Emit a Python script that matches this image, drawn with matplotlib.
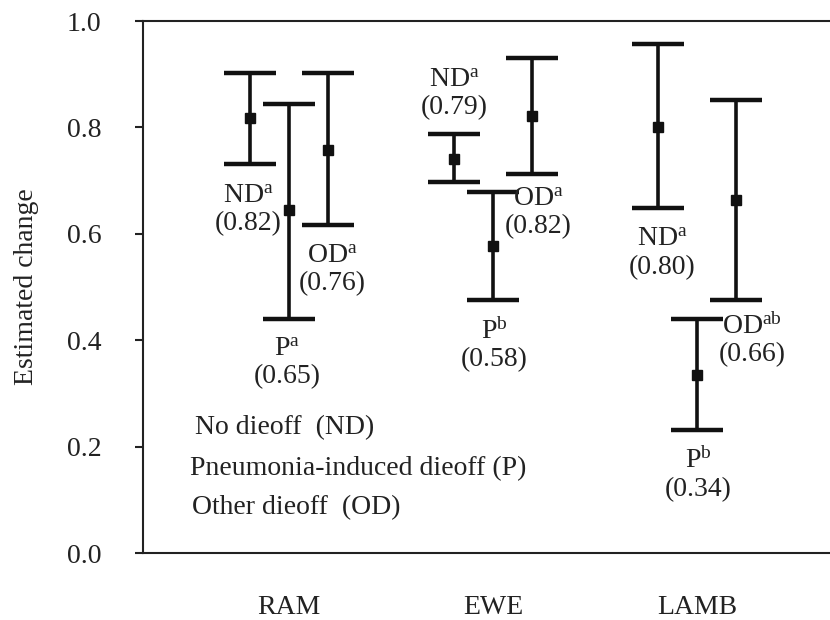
import numpy as np
import matplotlib
matplotlib.use('Agg')
import matplotlib.pyplot as plt

plt.rcParams['font.family'] = ['Liberation Serif', 'DejaVu Serif']
plt.rcParams['mathtext.fontset'] = 'custom'
plt.rcParams['mathtext.rm'] = 'Liberation Serif'
plt.rcParams['mathtext.it'] = 'Liberation Serif'

# data
groups = ['RAM', 'EWE', 'LAMB']
status = ['ND', 'P', 'OD']
# rows: status (ND, P, OD), columns: group (RAM, EWE, LAMB)
means = np.array([[0.817, 0.741, 0.801],
                  [0.644, 0.578, 0.335],
                  [0.757, 0.821, 0.663]])
lower = np.array([[0.731, 0.697, 0.649],
                  [0.440, 0.476, 0.231],
                  [0.616, 0.713, 0.476]])
upper = np.array([[0.902, 0.787, 0.956],
                  [0.845, 0.679, 0.440],
                  [0.902, 0.931, 0.852]])
letters = [['a', 'a', 'a'],
           ['a', 'b', 'b'],
           ['a', 'a', 'ab']]
shown = [['0.82', '0.79', '0.80'],
         ['0.65', '0.58', '0.34'],
         ['0.76', '0.82', '0.66']]
legend_lines = ['No dieoff  (ND)', 'Pneumonia-induced dieoff (P)',
                'Other dieoff  (OD)']

# label placement (data coords) for each status/group
label_pos = {(0, 0): (-0.20, 0.645), (1, 0): (-0.01, 0.357), (2, 0): (0.21, 0.532),
             (0, 1): (0.81, 0.863), (1, 1): (1.005, 0.391), (2, 1): (1.22, 0.639),
             (0, 2): (1.828, 0.563), (1, 2): (2.005, 0.147), (2, 2): (2.27, 0.400)}

fig = plt.figure(figsize=(8.3, 6.2), dpi=100)
ax = fig.add_axes([0.1723, 0.108, 0.8277, 0.858])

x = np.arange(len(groups))
offsets = [-0.19, 0.0, 0.19]
fs = 20

for i in range(len(status)):
    xp = x + offsets[i]
    err = np.vstack([means[i] - lower[i], upper[i] - means[i]])
    ax.errorbar(xp, means[i], yerr=err, fmt='s', color='#111111',
                ms=7, elinewidth=2.6, capsize=19, capthick=3.2)
    for j in range(len(groups)):
        lx, ly = label_pos[(i, j)]
        ax.text(lx, ly, status[i] + r'$^{\mathrm{' + letters[i][j] + '}}$' +
                '\n(' + shown[i][j] + ')', ha='center', va='center',
                fontsize=fs, linespacing=1.12, color='#222222')

legend_y = [0.235, 0.158, 0.085]
legend_x = [-0.46, -0.485, -0.475]
for t, lx, ly in zip(legend_lines, legend_x, legend_y):
    ax.text(lx, ly, t, ha='left', va='center', fontsize=fs, color='#222222')

ax.set_xlim(-0.716, 2.652)
ax.set_ylim(0.0, 1.0)
ax.set_yticks(np.arange(0, 1.01, 0.2))
ax.set_yticklabels(['%.1f' % v for v in np.arange(0, 1.01, 0.2)])
ax.set_xticks(x)
ax.set_xticklabels(groups)
ax.tick_params(axis='x', length=0, pad=30, labelsize=fs, colors='#222222')
ax.tick_params(axis='y', length=6, width=1.5, pad=24, labelsize=fs,
               colors='#222222', direction='out')
ax.set_ylabel('Estimated change', fontsize=fs, color='#222222', labelpad=20)

ax.spines['right'].set_visible(False)
for s in ['left', 'top', 'bottom']:
    ax.spines[s].set_linewidth(1.5)
    ax.spines[s].set_color('#222222')

fig.savefig('out.png', dpi=100)
